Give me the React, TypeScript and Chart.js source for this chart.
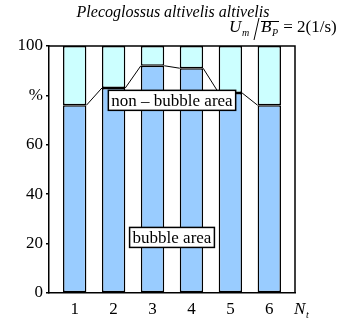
import React, { useEffect, useRef } from "react";
import { Chart, registerables } from "chart.js";

Chart.register(...registerables);

const categories = [1, 2, 3, 4, 5, 6];
const bubbleArea = [76, 83, 92, 91, 81, 76];
const nonBubbleArea = bubbleArea.map((v) => 100 - v);
const yTicks = [0, 20, 40, 60, 80, 100];
const yTickLabels = ["0", "20", "40", "60", "%", "100"];
const titleText = "Plecoglossus altivelis altivelis";
const labelNonBubble = { text: "non \u2013 bubble area", x: 3.5, y: 78 };
const labelBubble = { text: "bubble area", x: 3.5, y: 22.5 };

const SERIF = '"Liberation Serif", serif';

const decorPlugin = {
  id: "decor",
  afterDatasetsDraw(chart: any) {
    const ctx = chart.ctx;
    const meta = chart.getDatasetMeta(0);
    ctx.save();
    ctx.strokeStyle = "#000";
    ctx.lineWidth = 1;
    for (let i = 0; i < meta.data.length - 1; i++) {
      const a = meta.data[i];
      const b = meta.data[i + 1];
      ctx.beginPath();
      ctx.moveTo(a.x + a.width / 2, a.y);
      ctx.lineTo(b.x - b.width / 2, b.y);
      ctx.stroke();
    }
    const ca = chart.chartArea;
    ctx.lineWidth = 1.5;
    ctx.beginPath();
    ctx.moveTo(ca.left, ca.top);
    ctx.lineTo(ca.right, ca.top);
    ctx.lineTo(ca.right, ca.bottom);
    ctx.stroke();
    ctx.restore();
  },
  afterDraw(chart: any) {
    const ctx = chart.ctx;
    const xs = chart.scales.x;
    const ys = chart.scales.y;
    ctx.save();
    ctx.fillStyle = "#000";
    ctx.textBaseline = "alphabetic";

    const drawBox = (lab: any) => {
      ctx.font = `17px ${SERIF}`;
      const w = ctx.measureText(lab.text).width + 6;
      const h = 20;
      const cx = xs.getPixelForValue(lab.x);
      const cy = ys.getPixelForValue(lab.y);
      ctx.fillStyle = "#fff";
      ctx.fillRect(cx - w / 2, cy - h / 2, w, h);
      ctx.strokeStyle = "#000";
      ctx.lineWidth = 1.5;
      ctx.strokeRect(cx - w / 2, cy - h / 2, w, h);
      ctx.fillStyle = "#000";
      ctx.textAlign = "center";
      ctx.textBaseline = "middle";
      ctx.fillText(lab.text, cx, cy + 1);
    };
    drawBox(labelNonBubble);
    drawBox(labelBubble);

    ctx.textBaseline = "alphabetic";
    ctx.textAlign = "center";
    ctx.font = `italic 16px ${SERIF}`;
    ctx.fillText(titleText, 173, 17);

    ctx.textAlign = "left";
    ctx.font = `italic 17px ${SERIF}`;
    ctx.fillText("U", 229, 32);
    ctx.font = `italic 10px ${SERIF}`;
    ctx.fillText("m", 242, 36);
    ctx.strokeStyle = "#000";
    ctx.lineWidth = 1;
    ctx.beginPath();
    ctx.moveTo(259, 18);
    ctx.lineTo(254, 40);
    ctx.stroke();
    ctx.font = `italic 17px ${SERIF}`;
    ctx.fillText("B", 261, 32);
    ctx.font = `italic 10px ${SERIF}`;
    ctx.fillText("P", 272, 36);
    ctx.beginPath();
    ctx.moveTo(261, 21.5);
    ctx.lineTo(279, 21.5);
    ctx.stroke();
    ctx.font = `17px ${SERIF}`;
    ctx.fillText(" = 2(1/s)", 279, 32);

    ctx.font = `italic 17px ${SERIF}`;
    ctx.fillText("N", 294, 314);
    ctx.font = `italic 10px ${SERIF}`;
    ctx.fillText("t", 306, 318);
    ctx.restore();
  },
};

export default function App() {
  const ref = useRef<HTMLCanvasElement | null>(null);
  useEffect(() => {
    if (!ref.current) return;
    const chart = new Chart(ref.current, {
      type: "bar",
      data: {
        datasets: [
          {
            label: "bubble area",
            data: categories.map((c, i) => ({ x: c, y: bubbleArea[i] })),
            backgroundColor: "#99CCFF",
            borderColor: "#000",
            borderWidth: 1.5,
            borderSkipped: false,
            categoryPercentage: 1,
            barPercentage: 0.6,
          },
          {
            label: "non-bubble area",
            data: categories.map((c, i) => ({ x: c, y: nonBubbleArea[i] })),
            backgroundColor: "#CCFFFF",
            borderColor: "#000",
            borderWidth: 1.5,
            borderSkipped: false,
            categoryPercentage: 1,
            barPercentage: 0.6,
          },
        ],
      },
      options: {
        responsive: false,
        animation: false,
        devicePixelRatio: 1,
        layout: { padding: { top: 46, right: 52, left: 0, bottom: 0 } },
        plugins: { legend: { display: false }, tooltip: { enabled: false } },
        scales: {
          x: {
            type: "linear",
            stacked: true,
            offset: false,
            min: 0.34,
            max: 6.66,
            afterBuildTicks: (s: any) => {
              s.ticks = categories.map((v) => ({ value: v }));
            },
            afterFit: (s: any) => {
              s.height = 26;
            },
            grid: { display: true, offset: false, drawOnChartArea: false, drawTicks: false },
            border: { display: true, color: "#000", width: 1.5 },
            ticks: {
              padding: 6,
              color: "#000",
              font: { family: SERIF, size: 17 },
              maxRotation: 0,
              autoSkip: false,
              callback: (v: any) => String(v),
            },
          },
          y: {
            stacked: true,
            min: 0,
            max: 100,
            afterBuildTicks: (s: any) => {
              s.ticks = yTicks.map((v) => ({ value: v }));
            },
            afterFit: (s: any) => {
              s.width = 49;
            },
            grid: {
              display: true,
              drawOnChartArea: false,
              drawTicks: true,
              tickLength: 3,
              color: "#000",
              lineWidth: 1.5,
            },
            border: { display: true, color: "#000", width: 1.5 },
            ticks: {
              padding: 3,
              color: "#000",
              font: { family: SERIF, size: 17 },
              autoSkip: false,
              callback: (v: any) => {
                const i = yTicks.indexOf(Number(v));
                return i >= 0 ? yTickLabels[i] : "";
              },
            },
          },
        },
      },
      plugins: [decorPlugin],
    } as any);
    return () => chart.destroy();
  }, []);
  return (
    <div style={{ position: "fixed", left: 0, top: 0, width: 347, height: 319, background: "#fff" }}>
      <canvas ref={ref} width={347} height={319} style={{ display: "block", width: 347, height: 319 }} />
    </div>
  );
}
